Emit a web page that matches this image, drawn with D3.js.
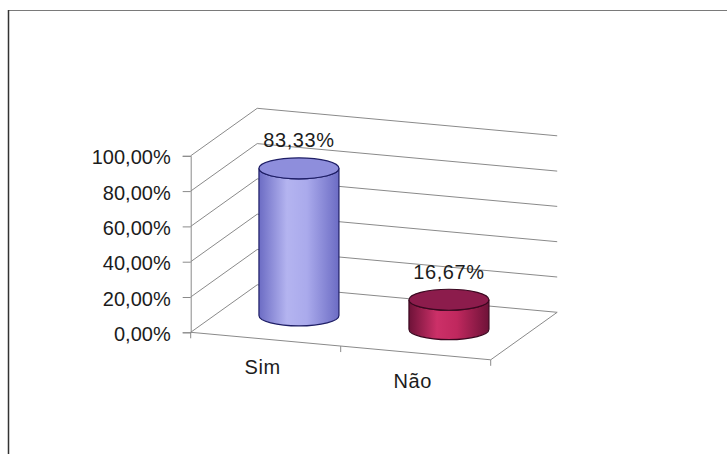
<!DOCTYPE html>
<html>
<head>
<meta charset="utf-8">
<script src="https://cdn.jsdelivr.net/npm/d3@7"></script>
<style>
  html, body { margin: 0; padding: 0; background: #fff; }
  svg { display: block; }
  text { font-family: "Liberation Sans", Arial, sans-serif; fill: #1c1c1c; }
</style>
</head>
<body>
<svg id="chart" width="727" height="454"></svg>
<script>
// Data
const categories = ["Sim", "Não"];
const values = [83.33, 16.67];
const tickValues = [0, 20, 40, 60, 80, 100];

const W = 727, H = 454;
const svg = d3.select("#chart");

// Brazilian number format: "83,33%"
const locale = d3.formatLocale({ decimal: ",", thousands: ".", grouping: [3], currency: ["R$", ""] });
const pct = locale.format(".2%");

// Oblique 3D frame: origin is the front-left floor corner
const origin = { x: 190.7, y: 332.3 };
const frontLen = 300;            // length of the category axis along the front edge
const frontSlope = 27.5 / 300;   // the front edge drops slightly to the right
const depth = { x: 66.5, y: -47.5 };
const wallH = 176.5;

const xScale = d3.scaleBand().domain(categories).range([0, frontLen]);
const hScale = d3.scaleLinear().domain([0, 100]).range([0, wallH]);

// u: distance along category axis, d: depth fraction, h: height in px
function project(u, d, h) {
  return [origin.x + u + d * depth.x, origin.y + u * frontSlope + d * depth.y - h];
}

// Outer frame
svg.append("rect").attr("x", 0).attr("y", 0).attr("width", W).attr("height", H).attr("fill", "#fff");
svg.append("line").attr("x1", 8).attr("y1", 10.5).attr("x2", W).attr("y2", 10.5)
  .attr("stroke", "#7a7a7a").attr("stroke-width", 1);
svg.append("line").attr("x1", 8.5).attr("y1", 10).attr("x2", 8.5).attr("y2", H)
  .attr("stroke", "#333", "").attr("stroke-width", 1.5);

const gridColor = "#8a8a8a";
const grid = svg.append("g").attr("fill", "none").attr("stroke", gridColor).attr("stroke-width", 1);

// Side wall diagonals and back wall lines at each tick value
tickValues.forEach(v => {
  const h = hScale(v);
  const a = project(0, 0, h), b = project(0, 1, h), c = project(frontLen, 1, h);
  grid.append("polyline").attr("points", [a, b, c].map(p => p.join(",")).join(" "));
});

// Floor: front edge and right edge
{
  const a = project(0, 0, 0), b = project(frontLen, 0, 0), c = project(frontLen, 1, 0);
  grid.append("polyline").attr("points", [a, b, c].map(p => p.join(",")).join(" "));
}

// Category tick marks along the front edge
[0, xScale.bandwidth(), frontLen].forEach(u => {
  const p = project(u, 0, 0);
  grid.append("line").attr("x1", p[0]).attr("y1", p[1]).attr("x2", p[0]).attr("y2", p[1] + 6);
});

// Vertical value axis drawn with d3.axisLeft
const yAxisScale = d3.scaleLinear().domain([0, 100]).range([origin.y, origin.y - wallH]);
const yAxis = d3.axisLeft(yAxisScale)
  .tickValues(tickValues)
  .tickSize(8)
  .tickPadding(12)
  .tickFormat(d => pct(d / 100));
const gy = svg.append("g").attr("transform", `translate(${origin.x},0)`).call(yAxis);
gy.select(".domain").attr("stroke", gridColor);
gy.selectAll(".tick line").attr("stroke", gridColor);
gy.selectAll(".tick text")
  .attr("dy", "0.4em")
  .attr("fill", "#1c1c1c")
  .style("font-size", "20px")
  .style("font-family", "'Liberation Sans', Arial, sans-serif");

// Category labels
svg.append("g").selectAll("text").data(categories).join("text")
  .attr("x", d => project(xScale(d) + xScale.bandwidth() / 2, 0, 0)[0] - 3)
  .attr("y", d => project(xScale(d) + xScale.bandwidth() / 2, 0, 0)[1] + 35)
  .attr("text-anchor", "middle")
  .style("font-size", "20px")
  .style("letter-spacing", "0.6px")
  .text(d => d);

// Cylinder styles
const styles = [
  { id: "gSim", dark: "#6c6cc4", mid: "#aaaaec", light: "#b4b4f0", top: "#8e8edc", stroke: "#1e1e66" },
  { id: "gNao", dark: "#6e1238", mid: "#c0285e", light: "#cc3068", top: "#8c1c4c", stroke: "#3a0820" }
];
const defs = svg.append("defs");
styles.forEach(s => {
  const g = defs.append("linearGradient").attr("id", s.id).attr("x1", "0").attr("x2", "1").attr("y1", "0").attr("y2", "0");
  g.append("stop").attr("offset", "0%").attr("stop-color", s.dark);
  g.append("stop").attr("offset", "35%").attr("stop-color", s.light);
  g.append("stop").attr("offset", "60%").attr("stop-color", s.mid);
  g.append("stop").attr("offset", "100%").attr("stop-color", s.dark);
});

const rx = 40, ry = 10.5;
const bars = svg.append("g").selectAll("g").data(categories).join("g");

bars.each(function(d, i) {
  const g = d3.select(this);
  const s = styles[i];
  const [cx, by] = project(xScale(d) + xScale.bandwidth() / 2, 0.5, 0);
  const ty = by - hScale(values[i]);
  // body
  g.append("path")
    .attr("d", `M${cx - rx},${ty} L${cx - rx},${by} A${rx},${ry} 0 0 0 ${cx + rx},${by} L${cx + rx},${ty} A${rx},${ry} 0 0 1 ${cx - rx},${ty} Z`)
    .attr("fill", `url(#${s.id})`)
    .attr("stroke", s.stroke).attr("stroke-width", 1.2);
  // top face
  g.append("ellipse")
    .attr("cx", cx).attr("cy", ty).attr("rx", rx).attr("ry", ry)
    .attr("fill", s.top)
    .attr("stroke", s.stroke).attr("stroke-width", 1.2);
  // value label
  g.append("text")
    .attr("x", cx)
    .attr("y", ty - 21)
    .attr("text-anchor", "middle")
    .style("font-size", "20px")
    .style("letter-spacing", "0.6px")
    .text(pct(values[i] / 100));
});
</script>
</body>
</html>
